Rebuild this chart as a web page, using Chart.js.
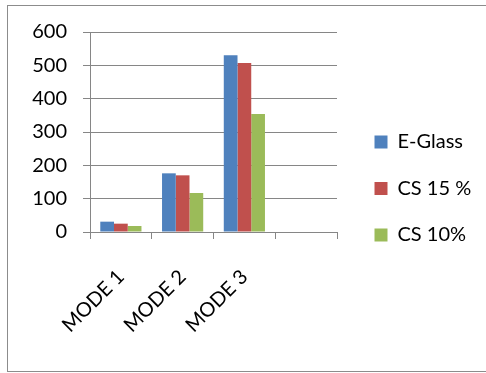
<!DOCTYPE html>
<html>
<head>
<meta charset="utf-8">
<script src="https://cdn.jsdelivr.net/npm/chart.js@4.4.1/dist/chart.umd.min.js"></script>
<style>
  html, body { margin: 0; padding: 0; background: #ffffff; }
  #wrap { position: relative; width: 486px; height: 373px; overflow: hidden; }
  #frame { position: absolute; left: 7px; top: 5px; width: 500px; height: 367px; border: 1px solid #8c8c8c; box-sizing: border-box; }
  canvas { position: absolute; left: 0; top: 0; }
</style>
</head>
<body>
<div id="wrap">
  <div id="frame"></div>
  <canvas id="chart" width="486" height="373"></canvas>
</div>
<script>
// Categories (the fourth slot is left empty on purpose)
const categories = ['MODE 1', 'MODE 2', 'MODE 3', ''];

// Series values per mode
const eGlass = [31, 176, 530, null];
const cs15 = [25, 170, 507, null];
const cs10 = [18, 117, 354, null];

// Y-axis range
const yTicks = [0, 100, 200, 300, 400, 500, 600];

const gridGray = '#868686';
const fontFamily = 'Lato, "Open Sans", sans-serif';

// Moves the legend block into its place beside the plot and lets it run to the edge
const legendNudge = {
  id: 'legendNudge',
  afterLayout(chart) {
    const l = chart.legend;
    if (!l) return;
    l.left += 11;
    l.right = chart.width;
    l.width = l.right - l.left;
    l.maxWidth = l.width;
    l.top -= 14; l.bottom -= 14;
  }
};

new Chart(document.getElementById('chart'), {
  type: 'bar',
  data: {
    labels: categories,
    datasets: [
      { label: 'E-Glass', data: eGlass, backgroundColor: '#4F81BD' },
      { label: 'CS 15 %', data: cs15, backgroundColor: '#C0504D' },
      { label: 'CS 10%', data: cs10, backgroundColor: '#9BBB59' }
    ]
  },
  options: {
    responsive: false,
    animation: false,
    devicePixelRatio: 1,
    datasets: { bar: { categoryPercentage: 0.667, barPercentage: 1.0 } },
    layout: { padding: { left: 7, top: 32, right: 39, bottom: 0 } },
    plugins: {
      tooltip: { enabled: false },
      legend: {
        position: 'right',
        labels: {
          boxWidth: 13,
          boxHeight: 13,
          padding: 26.5,
          color: '#000000',
          font: { family: fontFamily, size: 20 }
        }
      }
    },
    scales: {
      x: {
        offset: true,
        grid: { display: true, offset: true, drawOnChartArea: false, drawTicks: true, tickLength: 7, color: gridGray },
        border: { display: true, color: gridGray },
        ticks: {
          autoSkip: false,
          minRotation: 45,
          maxRotation: 45,
          padding: 26,
          color: '#000000',
          font: { family: fontFamily, size: 20 }
        },
        afterFit(scale) { scale.height = 373 - 232; }
      },
      y: {
        min: yTicks[0],
        max: yTicks[yTicks.length - 1],
        afterBuildTicks(scale) { scale.ticks = yTicks.map(v => ({ value: v })); },
        grid: { color: gridGray, tickLength: 7 },
        border: { display: true, color: gridGray },
        ticks: {
          padding: 16,
          color: '#000000',
          font: { family: fontFamily, size: 20 }
        },
        afterFit(scale) { scale.width = 83; }
      }
    }
  },
  plugins: [legendNudge]
});
</script>
</body>
</html>
